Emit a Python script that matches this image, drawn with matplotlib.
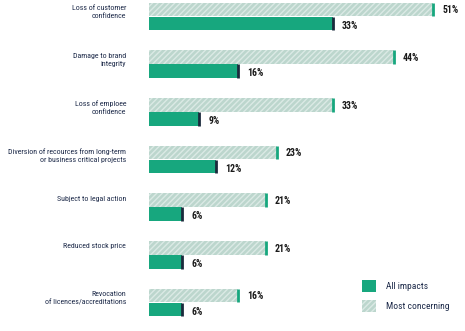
import numpy as np
import matplotlib
matplotlib.use("Agg")
import matplotlib.pyplot as plt
from matplotlib.patches import Patch

# ─── Data ─────────────────────────────────────────────────────────────────────

categories = [
    "Loss of customer\nconfidence",
    "Damage to brand\nintegrity",
    "Loss of emploee\nconfidence",
    "Diversion of recources from long-term\nor business critical projects",
    "Subject to legal action",
    "Reduced stock price",
    "Revocation\nof licences/accreditations",
]
most_concerning = [51, 44, 33, 23, 21, 21, 16]
all_impacts     = [33, 16, 9, 12, 6, 6, 6]

# ─── Style ────────────────────────────────────────────────────────────────────

plt.rcParams["font.family"] = ["Roboto Condensed", "Roboto", "DejaVu Sans"]
plt.rcParams["hatch.linewidth"] = 1.0

GREEN     = "#17a77e"
LIGHT     = "#bcd6cd"
HATCH_COL = "#dbeae5"
NAVY      = "#1b2a3c"
TEXT      = "#1e2b4a"
VALUE_COL = "#1a1a1a"

BAR_H = 0.285
OFF   = 0.148

# ─── Plot ─────────────────────────────────────────────────────────────────────

fig = plt.figure(figsize=(4.65, 3.31), dpi=100)
ax = fig.add_axes([0, 0, 1, 1])
ax.axis("off")

y = np.arange(len(categories))
y_top = y - OFF
y_bot = y + OFF

ax.barh(y_top, most_concerning, height=BAR_H, color=LIGHT,
        edgecolor=HATCH_COL, linewidth=0, hatch="//////")
ax.barh(y_bot, all_impacts, height=BAR_H, color=GREEN, linewidth=0)

# end caps
ax.vlines(most_concerning, y_top - BAR_H / 2, y_top + BAR_H / 2, color=GREEN, lw=2)
ax.vlines(all_impacts, y_bot - BAR_H / 2, y_bot + BAR_H / 2, color=NAVY, lw=2)

for yy, v in zip(y_top, most_concerning):
    ax.annotate(f"{v}%", (v, yy), xytext=(9, -1), textcoords="offset pixels",
                ha="left", va="center", fontsize=7, fontweight="bold", color=VALUE_COL)
for yy, v in zip(y_bot, all_impacts):
    ax.annotate(f"{v}%", (v, yy), xytext=(9, -2), textcoords="offset pixels",
                ha="left", va="center", fontsize=7, fontweight="bold", color=VALUE_COL)

# category labels, first line level with the hatched bar
for yy, label in zip(y_top, categories):
    ax.annotate(label, (0, yy), xytext=(-23, 4.5), textcoords="offset pixels",
                ha="right", va="top", fontsize=5.7, fontweight="normal",
                color=TEXT, linespacing=1.47)

ax.set_xlim(-26.75, 56.73)
ax.set_ylim(6.597, -0.346)

handles = [
    Patch(facecolor=GREEN, edgecolor="none", label="All impacts"),
    Patch(facecolor=LIGHT, edgecolor=HATCH_COL, linewidth=0, hatch="//////",
          label="Most concerning"),
]
leg = fig.legend(handles=handles, loc="upper left",
                 bbox_to_anchor=(362 / 465, 1 - 280 / 331),
                 frameon=False, fontsize=6.8, borderpad=0, borderaxespad=0,
                 handlelength=1.5, handleheight=1.5, handletextpad=1.05,
                 labelspacing=0.95)
for t in leg.get_texts():
    t.set_color(TEXT)

fig.savefig("out.png", dpi=100)
